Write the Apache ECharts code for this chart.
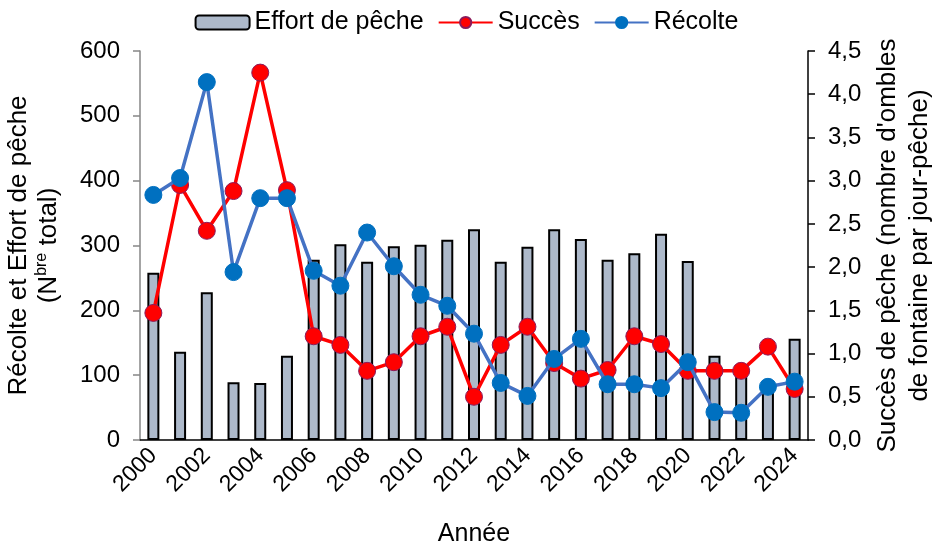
<!DOCTYPE html>
<html lang="fr">
<head>
<meta charset="utf-8" />
<title>Effort de pêche, succès et récolte</title>
<script src="https://cdn.jsdelivr.net/npm/echarts@6/dist/echarts.min.js"></script>
<style>
  html, body { margin: 0; padding: 0; background: #fff; }
  #chart { width: 933px; height: 546px; }
</style>
</head>
<body>
<div id="chart"></div>
<script>
// données
var annees = ['2000','2001','2002','2003','2004','2005','2006','2007','2008','2009','2010','2011','2012',
              '2013','2014','2015','2016','2017','2018','2019','2020','2021','2022','2023','2024'];
var effort = [258, 136, 228, 89, 88, 130, 278, 302, 275, 299, 301, 309, 325,
              275, 298, 325, 310, 278, 288, 318, 276, 130, 108, 82, 156];
var succes = [1.47, 2.95, 2.42, 2.88, 4.25, 2.89, 1.20, 1.10, 0.80, 0.90, 1.20, 1.31, 0.50,
              1.10, 1.31, 0.89, 0.71, 0.81, 1.20, 1.11, 0.80, 0.80, 0.80, 1.08, 0.59];
var recolte = [378, 404, 552, 259, 373, 373, 261, 238, 320, 268, 224, 207, 164,
               88, 68, 125, 156, 86, 86, 80, 120, 43, 42, 82, 90];

var police = 'Liberation Sans, Arial, sans-serif';

var chart = echarts.init(document.getElementById('chart'));

var option = {
  animation: false,
  textStyle: { fontFamily: police },
  legend: {
    top: 5,
    left: 'center',
    itemGap: 14,
    itemWidth: 54,
    itemHeight: 14,
    textStyle: { fontSize: 25, color: '#000', fontFamily: police },
    data: ['Effort de pêche', 'Succès', 'Récolte']
  },
  grid: { left: 140, right: 125, top: 51, bottom: 106, outerBoundsMode: 'none' },
  xAxis: {
    type: 'category',
    data: annees,
    boundaryGap: true,
    name: 'Année',
    nameLocation: 'middle',
    nameGap: 82,
    nameTextStyle: { fontSize: 25, color: '#000' },
    axisLine: { lineStyle: { color: '#000', width: 1.5 } },
    axisTick: { interval: 0, length: 7, lineStyle: { color: '#000', width: 1.5 } },
    axisLabel: { interval: 1, rotate: 45, fontSize: 23, color: '#000', margin: 12 }
  },
  yAxis: [
    {
      type: 'value',
      min: 0, max: 600, interval: 100,
      name: '{l|Récolte et Effort de pêche}\n{l|(N}{s|bre}{l| total)}',
      nameLocation: 'middle',
      nameRotate: 90,
      nameGap: 76,
      nameTextStyle: {
        color: '#000',
        lineHeight: 30,
        rich: {
          l: { fontSize: 26, color: '#000', lineHeight: 30 },
          s: { fontSize: 16, color: '#000', verticalAlign: 'top', lineHeight: 30 }
        }
      },
      splitLine: { show: false },
      axisLine: { show: true, lineStyle: { color: '#868686', width: 1.5 } },
      axisTick: { show: true, length: 7, lineStyle: { color: '#868686', width: 1.5 } },
      axisLabel: { fontSize: 24, color: '#000', margin: 20 }
    },
    {
      type: 'value',
      min: 0, max: 4.5, interval: 0.5,
      position: 'right',
      name: "Succès de pêche (nombre d'ombles\nde fontaine par jour-pêche)",
      nameLocation: 'middle',
      nameRotate: 90,
      nameGap: 64,
      nameTextStyle: { fontSize: 26, color: '#000', lineHeight: 32 },
      splitLine: { show: false },
      axisLine: { show: true, lineStyle: { color: '#000', width: 1.5 } },
      axisTick: { show: true, length: 7, lineStyle: { color: '#000', width: 1.5 } },
      axisLabel: {
        fontSize: 24, color: '#000', margin: 20,
        formatter: function (v) { return v.toFixed(1).replace('.', ','); }
      }
    }
  ],
  series: [
    {
      name: 'Effort de pêche',
      type: 'bar',
      yAxisIndex: 0,
      barWidth: 12,
      data: effort,
      itemStyle: { color: '#adb9ca', borderColor: '#000', borderWidth: 2 }
    },
    {
      name: 'Succès',
      type: 'line',
      yAxisIndex: 1,
      data: succes,
      symbol: 'circle',
      symbolSize: 17,
      lineStyle: { color: '#ff0000', width: 3.5 },
      itemStyle: { color: '#ff0000', borderColor: '#8b1a5a', borderWidth: 1 },
      z: 3
    },
    {
      name: 'Récolte',
      type: 'line',
      yAxisIndex: 0,
      data: recolte,
      symbol: 'circle',
      symbolSize: 17,
      lineStyle: { color: '#4472c4', width: 3.5 },
      itemStyle: { color: '#0070c0', borderColor: '#0070c0', borderWidth: 1 },
      z: 4
    }
  ]
};

chart.setOption(option);

window.onresize = function () {
  chart.resize();
};
</script>
</body>
</html>
